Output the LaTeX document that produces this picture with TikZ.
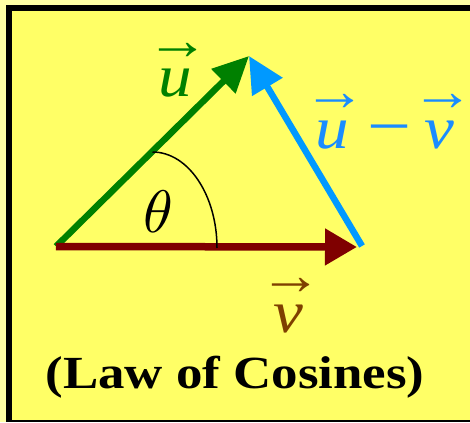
\documentclass[tikz,border=0pt]{standalone}
\usepackage{fontspec}
\setmainfont{Liberation Serif}
\usepackage{graphicx}
\usetikzlibrary{arrows.meta}
\definecolor{paleyel}{HTML}{FFFFA6}
\definecolor{boxyel}{HTML}{FFFF66}
\definecolor{ugreen}{HTML}{008000}
\definecolor{vred}{HTML}{7F0000}
\definecolor{dblue}{HTML}{0099FF}
\definecolor{tblue}{HTML}{1A8CFF}
\definecolor{vbrown}{HTML}{7F4000}
\newcommand\myvv[1]{\vbox{\offinterlineskip\halign{\hfil##\hfil\cr\makebox[0pt][c]{\hspace{6pt}\scalebox{1.05}[0.95]{→}}\cr\noalign{\kern10pt}\scalebox{1.12}[1]{\textit{#1}}\cr}}}
\newcommand\mybigminus{\hspace{19pt}\scalebox{1.3}[1.1]{−}\hspace{13pt}}
\tikzset{
  vecline/.style={line width=6.5pt},
  biglabel/.style={inner sep=0pt, anchor=base, font=\fontsize{60}{60}\selectfont},
}
\begin{document}
\begin{tikzpicture}[x=1pt,y=-1pt]
\useasboundingbox (0,0) rectangle (470,422);
\fill[paleyel] (0,0) rectangle (470,422);
\fill[black] (6,5) rectangle (470,422);
\fill[boxyel] (12,11) rectangle (470,420);
\coordinate (O) at (56,246.5);
\coordinate (U) at (249,56);
\coordinate (V) at (357,247);
\coordinate (VS) at (362,246);
\coordinate (arcstart) at (152.5,152);
\draw[vecline, ugreen, -{Triangle[length=36pt,width=33pt]}] (O) -- (U);
\draw[line width=7.5pt, vred, -{Triangle[length=32pt,width=35pt]}] (O) -- (V);
\draw[vecline, dblue, -{Triangle[length=36pt,width=34pt]}] (VS) -- (U);
\draw[line width=1.5pt] (arcstart) arc[start angle=90, end angle=0, x radius=64.5, y radius=-96];
\node[biglabel, text=ugreen] (ulab) at (175,97) {\myvv{u}};
\node[biglabel, text=tblue] (uvlab) at (385,148) {\myvv{u}\mybigminus\myvv{v}};
\node[biglabel, text=vbrown] (vlab) at (288,332) {\myvv{v}};
\node[inner sep=0pt, anchor=base] (theta) at (158,232) {\scalebox{6}{$\theta$}};
\node[inner sep=0pt, anchor=base, font=\fontsize{46}{46}\selectfont\bfseries] (title) at (235,388) {\scalebox{1.15}[1]{(Law of Cosines)}};
\end{tikzpicture}
\end{document}
